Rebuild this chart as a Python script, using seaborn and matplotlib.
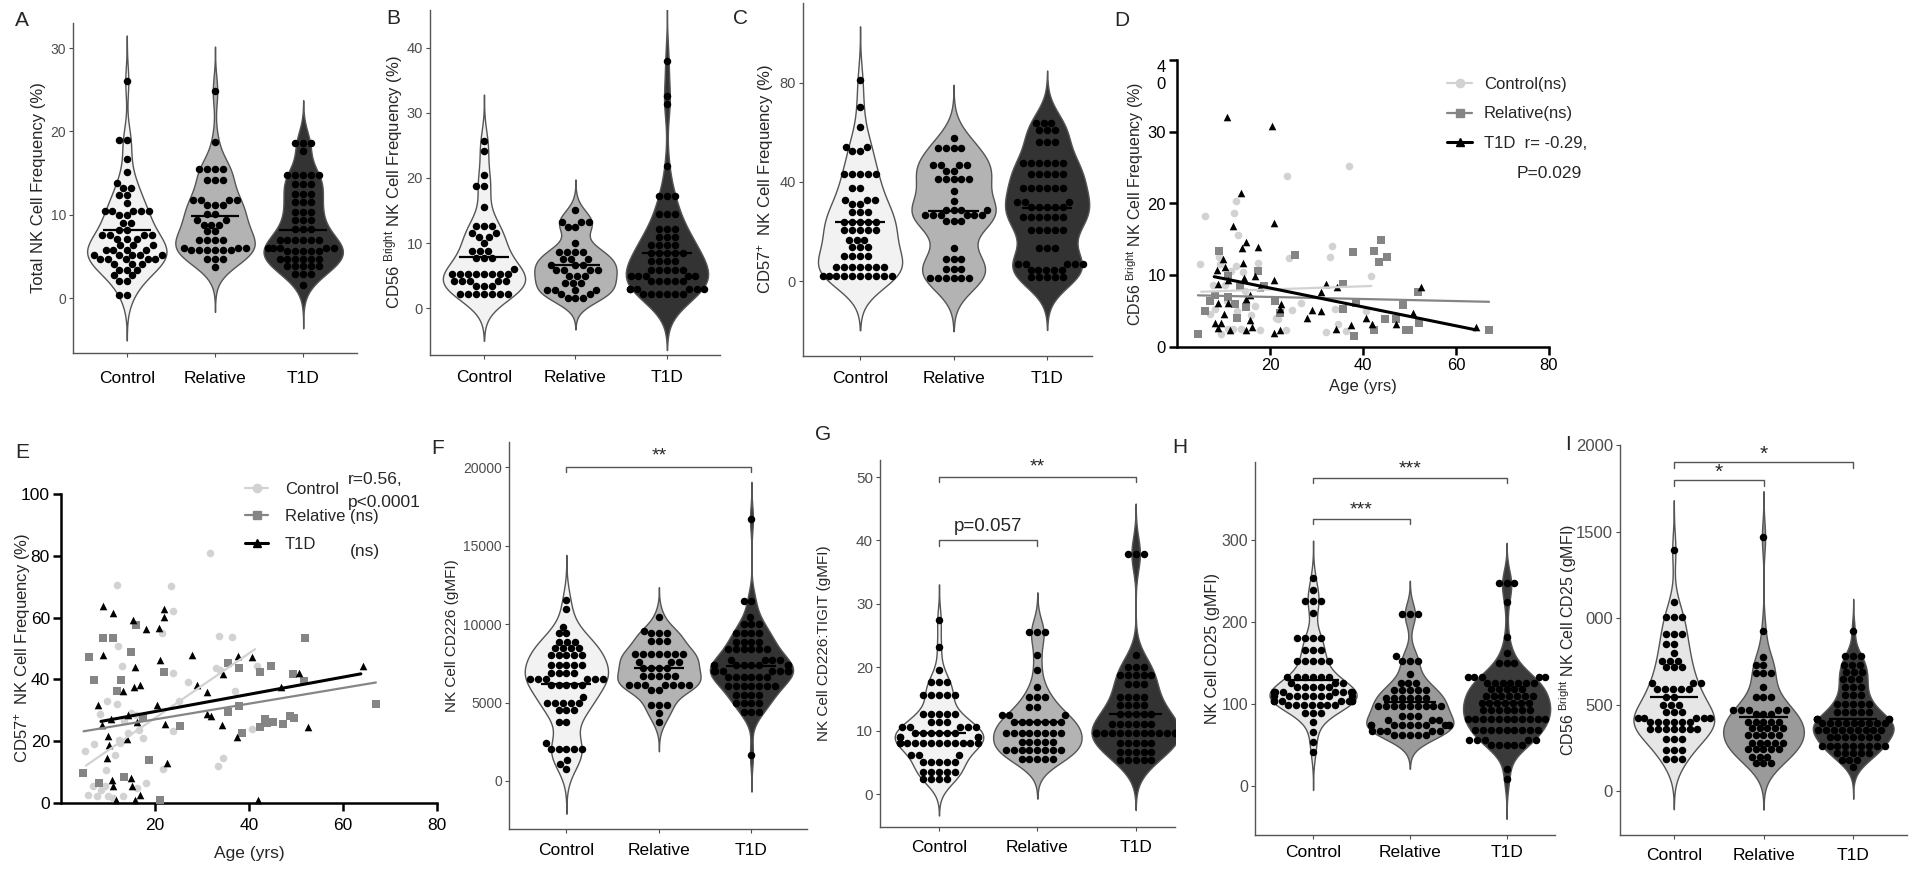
"""NK cell panels A-I: group violins (Control / Relative / T1D) and age correlations."""
import matplotlib
matplotlib.use("Agg")
import matplotlib.pyplot as plt
from matplotlib.lines import Line2D
import numpy as np
import pandas as pd
import seaborn as sns

GROUPS = ["Control", "Relative", "T1D"]

# ---- violin panels: (value, number of dots stacked in that row) ----
A_CONTROL = [(26.0, 1), (19.0, 2), (16.7, 1), (15.1, 1), (13.8, 1), (13.2, 2), (12.4, 2), (11.4, 1),
             (10.4, 5), (9.9, 2), (9.0, 2), (8.2, 2), (7.5, 4), (7.1, 3), (6.3, 3), (5.8, 4), (5.2, 5),
             (4.7, 5), (4.1, 3), (3.4, 3), (2.7, 2), (2.0, 2), (0.4, 2)]
A_RELATIVE = [(24.8, 1), (18.7, 1), (15.5, 4), (14.1, 3), (11.7, 4), (11.2, 3), (10.1, 2), (9.3, 2),
              (8.8, 3), (8.0, 2), (7.0, 4), (6.0, 3), (5.7, 6), (4.7, 3), (3.7, 1)]
A_T1D = [(18.6, 3), (17.6, 1), (14.7, 5), (13.7, 3), (12.5, 3), (11.5, 3), (10.3, 3), (9.3, 3),
         (8.3, 3), (7.0, 6), (6.0, 5), (5.6, 5), (4.7, 6), (3.8, 5), (2.9, 3), (1.5, 1)]
A_MEANS = [8.2, 9.8, 8.1]

B_CONTROL = [(25.6, 1), (24.2, 1), (20.5, 1), (18.7, 2), (15.6, 1), (12.6, 3), (11.5, 2), (10.9, 2),
             (10.0, 1), (8.7, 3), (7.7, 3), (6.0, 1), (5.3, 8), (4.1, 5), (3.4, 3), (2.2, 7)]
B_RELATIVE = [(15.0, 1), (13.3, 3), (12.5, 2), (10.0, 1), (8.6, 4), (7.6, 3), (6.7, 3), (5.8, 4),
              (4.9, 3), (3.9, 3), (2.8, 4), (2.2, 2), (1.5, 3)]
B_T1D = [(38.0, 1), (32.6, 1), (31.3, 1), (21.8, 1), (17.2, 3), (14.4, 3), (12.2, 3), (11.0, 3),
         (9.7, 4), (8.5, 5), (7.2, 4), (5.9, 5), (5.0, 5), (4.1, 5), (2.9, 6), (2.2, 6)]
B_MEANS = [7.9, 6.6, 8.5]

C_CONTROL = [(81.0, 1), (70.3, 1), (62.2, 1), (54.2, 2), (52.6, 2), (43.1, 5), (37.6, 2), (32.7, 3),
             (31.3, 2), (28.0, 3), (23.9, 5), (20.6, 5), (16.5, 3), (13.8, 3), (10.1, 4), (5.8, 7),
             (2.0, 10)]
C_RELATIVE = [(57.8, 1), (53.8, 4), (46.8, 4), (44.5, 2), (41.1, 5), (36.4, 1), (32.3, 1), (28.9, 4),
              (26.6, 6), (24.3, 3), (13.6, 1), (9.1, 3), (5.1, 3), (1.3, 6)]
C_T1D = [(63.6, 3), (60.9, 3), (55.9, 3), (47.6, 6), (43.1, 5), (37.4, 6), (31.9, 3), (30.0, 5),
         (25.9, 6), (20.6, 5), (13.4, 3), (7.1, 5), (4.7, 5), (1.7, 5)]
C_MEANS = [24.1, 28.2, 29.6]

F_CONTROL = [(11530, 1), (10940, 1), (9830, 1), (9400, 2), (8870, 3), (8450, 4), (8020, 5), (7380, 5),
             (6890, 4), (6470, 6), (6100, 5), (5360, 1), (4980, 5), (4550, 3), (3770, 2), (2430, 1),
             (2060, 5), (1320, 1), (1100, 1), (790, 1)]
F_RELATIVE = [(10470, 1), (9550, 1), (9400, 3), (8900, 3), (8100, 7), (7600, 3), (7200, 4), (6700, 5),
              (6100, 7), (5800, 2), (4850, 3), (4300, 1), (3770, 1)]
F_T1D = [(16700, 1), (11500, 2), (10470, 1), (10000, 3), (9400, 4), (8870, 4), (8380, 6), (7740, 4),
         (7380, 8), (7020, 8), (6640, 6), (6060, 7), (5470, 4), (4940, 4), (4380, 3), (1680, 1)]
F_MEANS = [6210, 7230, 7300]

G_CONTROL = [(27.4, 1), (23.2, 1), (19.5, 1), (17.7, 3), (15.7, 5), (12.7, 5), (11.4, 3), (10.6, 5),
             (9.7, 6), (9.0, 4), (8.0, 12), (6.1, 3), (5.1, 5), (3.5, 5), (2.3, 4)]
G_RELATIVE = [(25.6, 3), (21.9, 1), (19.5, 1), (16.9, 1), (15.3, 3), (13.7, 2), (12.4, 3), (11.4, 7),
              (9.7, 8), (8.2, 5), (6.9, 8), (5.5, 5)]
G_T1D = [(37.9, 3), (21.9, 1), (20.1, 3), (18.8, 5), (17.4, 3), (15.3, 4), (14.0, 4), (12.7, 5),
         (11.1, 6), (9.6, 14), (8.0, 5), (6.7, 5), (5.4, 5)]
G_MEANS = [9.7, 11.4, 12.6]

H_CONTROL = [(253, 1), (239, 1), (226, 3), (211, 1), (180, 4), (166, 3), (152, 5), (133, 6), (125, 3),
             (120, 5), (114, 8), (109, 8), (104, 7), (98, 7), (89, 3), (78, 1), (66, 1), (54, 1), (41, 1)]
H_RELATIVE = [(209, 3), (158, 1), (152, 3), (137, 1), (126, 3), (117, 5), (107, 6), (97, 9), (85, 3),
              (80, 3), (74, 10), (67, 5), (62, 5)]
H_T1D = [(248, 3), (224, 1), (181, 1), (162, 1), (150, 3), (133, 5), (126, 7), (118, 5), (109, 7),
         (101, 7), (92, 7), (82, 11), (68, 9), (56, 5), (50, 5), (20, 1), (8, 1)]
H_MEANS = [129, 102, 101]

I_CONTROL = [(1393, 1), (1094, 1), (1004, 3), (907, 3), (850, 2), (796, 1), (753, 3), (715, 3),
             (622, 3), (588, 5), (545, 2), (500, 3), (459, 3), (424, 5), (401, 6), (356, 7), (299, 3),
             (237, 3), (183, 3)]
I_RELATIVE = [(1466, 1), (925, 1), (777, 1), (728, 2), (684, 3), (603, 1), (545, 3), (468, 5), (445, 3),
              (401, 5), (362, 5), (324, 5), (279, 5), (241, 5), (198, 3), (160, 3)]
I_T1D = [(925, 1), (780, 3), (728, 3), (686, 3), (645, 3), (603, 3), (555, 3), (503, 5), (459, 5),
         (416, 5), (391, 9), (353, 9), (314, 7), (262, 9), (218, 5), (179, 3), (141, 1)]
I_MEANS = [545, 430, 416]

# ---- scatter panels: (age, value) ----
D_CONTROL = [(4.9, 11.5), (6.0, 18.3), (7.0, 4.6), (7.7, 8.7), (8.1, 5.3), (9.0, 12.6), (9.3, 11.5),
             (9.5, 1.8), (10.3, 8.7), (10.8, 6.4), (11.0, 2.5), (11.7, 10.6), (12.0, 2.5), (12.3, 18.7),
             (12.6, 20.3), (12.6, 11.3), (12.8, 5.0), (13.1, 15.6), (13.8, 2.5), (14.2, 10.5),
             (14.6, 7.8), (14.9, 6.0), (16.0, 4.4), (16.7, 5.7), (17.4, 11.7), (17.9, 2.3), (21.3, 4.1),
             (21.7, 3.9), (24.0, 12.4), (23.7, 23.9), (23.5, 2.3), (24.8, 5.1), (26.7, 6.2), (32.0, 2.1),
             (32.8, 12.5), (33.3, 14.1), (33.9, 5.3), (34.6, 3.2), (36.4, 2.2), (36.9, 25.2),
             (40.7, 5.0), (41.8, 9.9)]
D_RELATIVE = [(4.5, 1.8), (6.0, 5.0), (7.0, 6.4), (8.1, 7.3), (9.0, 13.4), (11.0, 9.9), (11.0, 6.9),
              (12.4, 6.0), (12.9, 4.1), (13.5, 8.3), (14.9, 5.6), (17.4, 10.6), (18.7, 8.5), (21.0, 6.4),
              (22.1, 4.8), (25.3, 12.8), (35.6, 8.8), (35.6, 5.3), (37.8, 13.2), (38.1, 1.5), (38.6, 6.2),
              (42.4, 2.4), (42.4, 13.4), (43.4, 11.9), (43.8, 14.9), (44.8, 3.9), (45.2, 12.6),
              (47.2, 3.9), (48.7, 5.8), (49.3, 2.4), (49.9, 2.4), (51.8, 7.7), (52.0, 3.3), (67.1, 2.4)]
D_T1D = [(10.8, 32.1), (20.4, 30.8), (13.8, 21.5), (20.8, 17.3), (12.0, 16.9), (14.9, 14.6),
         (17.4, 14.0), (13.9, 13.8), (9.9, 12.2), (14.3, 11.7), (10.4, 11.2), (8.7, 10.8), (16.8, 9.9),
         (14.4, 9.6), (20.8, 9.4), (11.0, 9.4), (8.8, 8.8), (32.0, 8.8), (34.5, 8.4), (52.5, 8.3),
         (17.8, 8.3), (31.0, 7.7), (15.6, 7.2), (14.9, 6.7), (8.8, 6.2), (11.0, 6.1), (22.4, 6.0),
         (29.0, 5.1), (31.0, 5.0), (22.1, 5.3), (10.2, 4.6), (50.8, 4.8), (27.9, 4.1), (40.7, 4.1),
         (15.6, 3.8), (8.1, 3.3), (9.5, 3.4), (16.1, 2.8), (47.0, 3.2), (41.9, 3.2), (37.5, 3.0),
         (34.2, 2.5), (64.2, 2.8), (8.8, 2.7), (14.8, 2.3), (22.1, 2.3), (20.8, 2.0), (11.3, 2.3)]
# fitted lines: ([age0, age1], [y0, y1])
D_FITS = [([5.2, 41.8], [7.7, 8.5]), ([4.5, 67.1], [7.2, 6.3]), ([8.0, 64.2], [9.8, 2.4])]

E_CONTROL = [(5.0, 16.7), (5.8, 2.7), (6.9, 5.4), (7.0, 19.2), (7.6, 2.2), (8.3, 28.9), (8.5, 4.3),
             (9.4, 5.6), (9.6, 10.6), (9.7, 32.9), (10.1, 2.4), (11.1, 1.6), (11.5, 15.6), (11.9, 70.6),
             (12.0, 32.1), (12.2, 50.9), (12.4, 20.5), (12.6, 19.4), (12.9, 44.2), (13.1, 2.2),
             (13.4, 26.4), (14.3, 22.6), (14.9, 29.1), (16.0, 28.6), (16.1, 4.8), (16.7, 23.7),
             (17.5, 21.0), (18.0, 6.5), (21.4, 55.0), (21.8, 11.0), (23.5, 70.3), (23.9, 62.0),
             (23.9, 42.0), (23.9, 23.2), (25.0, 32.9), (27.0, 39.0), (33.0, 43.6), (33.5, 11.9),
             (33.7, 53.9), (33.8, 42.9), (34.5, 14.5), (36.3, 53.7), (37.0, 36.4), (31.8, 80.8),
             (40.6, 23.9), (41.8, 44.4)]
E_RELATIVE = [(4.6, 9.7), (6.0, 47.1), (7.0, 39.7), (8.1, 6.5), (9.0, 53.3), (11.0, 53.3), (12.0, 36.4),
              (12.7, 39.9), (13.5, 8.3), (14.9, 48.8), (16.0, 57.7), (17.4, 27.7), (18.8, 13.8),
              (21.1, 1.1), (22.0, 42.3), (25.3, 24.8), (35.5, 45.3), (35.6, 29.6), (37.9, 43.6),
              (37.9, 31.5), (38.6, 22.6), (42.3, 42.3), (42.3, 24.5), (43.4, 27.3), (43.8, 25.9),
              (44.6, 44.4), (45.2, 26.2), (47.3, 25.6), (48.7, 28.3), (49.3, 41.8), (49.6, 27.5),
              (51.7, 39.5), (52.0, 53.3), (67.0, 32.1)]
E_T1D = [(9.0, 63.6), (9.0, 48.0), (11.0, 61.6), (7.8, 31.8), (8.8, 25.3), (9.7, 14.5), (9.9, 21.8),
         (10.2, 18.9), (10.6, 27.2), (10.8, 7.5), (11.1, 5.4), (11.8, 1.1), (13.1, 36.1), (14.0, 20.7),
         (14.3, 28.6), (14.9, 8.1), (15.0, 5.4), (15.4, 59.1), (15.6, 37.5), (15.7, 44.0), (15.7, 1.1),
         (16.2, 26.1), (16.9, 38.3), (16.9, 2.7), (18.0, 56.3), (20.5, 31.8), (20.9, 56.6),
         (21.1, 46.3), (21.9, 62.8), (21.9, 60.3), (22.2, 25.6), (22.6, 13.1), (27.9, 48.0),
         (29.0, 38.3), (31.1, 35.9), (31.1, 28.8), (31.9, 28.3), (34.2, 25.3), (34.5, 41.8),
         (37.5, 21.3), (37.6, 47.7), (40.7, 47.2), (42.0, 1.1), (46.9, 37.7), (50.6, 42.0),
         (52.6, 24.6), (64.3, 44.2)]
E_FITS = [([5.3, 41.3], [12.1, 49.8]), ([4.8, 67.0], [23.2, 39.0]), ([8.5, 63.8], [26.4, 41.8])]

PAL_LIGHT = ["#f2f2f2", "#b3b3b3", "#333333"]
PAL_MID = ["#e6e6e6", "#9a9a9a", "#3a3a3a"]
SCATTER_STYLE = [("#d2d2d2", "o", 1.6), ("#858585", "s", 1.6), ("black", "^", 2.2)]

W, H = 1920, 871
sns.set_style("ticks")
plt.rcParams["font.family"] = ["Liberation Sans", "DejaVu Sans"]
plt.rcParams["mathtext.fontset"] = "custom"
plt.rcParams["mathtext.rm"] = "Liberation Sans"
plt.rcParams["mathtext.it"] = "Liberation Sans:italic"

fig = plt.figure(figsize=(19.2, 8.71), dpi=100)


def add_ax(x0, y0, x1, y1):
    return fig.add_axes([x0 / W, 1 - y1 / H, (x1 - x0) / W, (y1 - y0) / H])


def ftext(x, y, s, **kw):
    fig.text(x / W, 1 - y / H, s, **kw)


def expand(rows):
    return np.repeat([v for v, n in rows], [n for v, n in rows])


def violin_panel(ax, data, means, palette, ylim, xlim, yticks, yticklabels, ylabel,
                 label_x, ylabel_fs=12, ytick_fs=10.5, xpad=8):
    df = pd.concat([pd.DataFrame({"group": g, "value": expand(d)}) for g, d in zip(GROUPS, data)],
                   ignore_index=True)
    sns.violinplot(data=df, x="group", y="value", hue="group", order=GROUPS, hue_order=GROUPS,
                   palette=palette, saturation=1, inner=None, cut=3, width=0.9, bw_adjust=0.85,
                   density_norm="area", linewidth=1, linecolor="#555555", legend=False, ax=ax)
    sns.swarmplot(data=df, x="group", y="value", order=GROUPS, color="black", size=5.4,
                  warn_thresh=1, ax=ax)
    ax.hlines(means, np.arange(3) - 0.27, np.arange(3) + 0.27, color="black", lw=1.6, zorder=6)
    ax.set_xlim(*xlim)
    ax.set_ylim(*ylim)
    ax.set_yticks(yticks)
    ax.set_yticklabels(yticklabels)
    ax.set_xlabel("")
    ax.set_ylabel(ylabel, fontsize=ylabel_fs)
    ax.yaxis.set_label_coords(label_x, 0.5)
    ax.tick_params(axis="y", labelsize=ytick_fs, labelcolor="#4d4d4d", color="#4d4d4d",
                   length=3, width=0.8, pad=2)
    ax.tick_params(axis="x", labelsize=12.5, labelcolor="black", color="#4d4d4d",
                   length=3, width=0.8, pad=xpad)
    for s in ("top", "right"):
        ax.spines[s].set_visible(False)
    for s in ("left", "bottom"):
        ax.spines[s].set_color("#555555")
        ax.spines[s].set_linewidth(1)


def bracket(ax, x1, x2, y, drop, text, gap, fs=14):
    ax.plot([x1, x1, x2, x2], [y - drop, y, y, y - drop], color="#555555", lw=1, clip_on=False)
    ax.text((x1 + x2) / 2, y + gap, text, ha="center", va="bottom", fontsize=fs)


def scatter_panel(ax, groups, fits):
    for pts, fit, (c, m, lw) in zip(groups, fits, SCATTER_STYLE):
        df = pd.DataFrame(pts, columns=["age", "val"])
        sns.scatterplot(data=df, x="age", y="val", color=c, marker=m, s=30, linewidth=0,
                        ax=ax, zorder=3, clip_on=False)
        ax.plot(fit[0], fit[1], color=c, lw=lw, zorder=4)
    for s in ("top", "right"):
        ax.spines[s].set_visible(False)
    for s in ("left", "bottom"):
        ax.spines[s].set_color("black")
        ax.spines[s].set_linewidth(1.8)


def legend_handles():
    return [Line2D([], [], color=c, marker=m, markersize=6, lw=lw) for c, m, lw in SCATTER_STYLE]


# ---------------- A ----------------
ax = add_ax(73, 23, 357, 353)
violin_panel(ax, [A_CONTROL, A_RELATIVE, A_T1D], A_MEANS, PAL_LIGHT, (-6.6, 33), (-0.61, 2.61),
             [0, 10, 20, 30], ["0", "10", "20", "30"], "Total NK Cell Frequency (%)", -0.095,
             ytick_fs=10, xpad=10)

# ---------------- B ----------------
ax = add_ax(430, 10, 720, 355)
violin_panel(ax, [B_CONTROL, B_RELATIVE, B_T1D], B_MEANS, PAL_LIGHT, (-7.2, 45.8), (-0.59, 2.58),
             [0, 10, 20, 30, 40], ["0", "10", "20", "30", "40"],
             r"CD56 $^{\mathrm{Bright}}$ NK Cell Frequency (%)", -0.085, xpad=7.5)

# ---------------- C ----------------
ax = add_ax(803, 3, 1092, 356)
violin_panel(ax, [C_CONTROL, C_RELATIVE, C_T1D], C_MEANS, PAL_LIGHT, (-30, 112), (-0.61, 2.48),
             [0, 40, 80], ["0", "40", "80"], r"CD57$^{+}$  NK Cell Frequency (%)", -0.092, xpad=8)

# ---------------- D ----------------
ax = add_ax(1177, 60, 1549, 347)
scatter_panel(ax, [D_CONTROL, D_RELATIVE, D_T1D], D_FITS)
ax.set_xlim(0, 80)
ax.set_ylim(0, 40)
ax.set_xticks([20, 40, 60, 80])
ax.set_yticks([0, 10, 20, 30, 40])
ax.set_yticklabels(["0", "10", "20", "30", "4\n0"])
ax.get_yticklabels()[-1].set_verticalalignment("top")
ax.tick_params(direction="out", length=6, width=1.8, colors="black", labelsize=12)
ax.tick_params(axis="x", pad=2)
ax.tick_params(axis="y", pad=2)
ax.set_xlabel("Age (yrs)", fontsize=12, labelpad=4)
ax.set_ylabel(r"CD56 $^{\mathrm{Bright}}$ NK Cell Frequency (%)", fontsize=11.5)
ax.yaxis.set_label_coords(-0.083, 0.5)
ax.legend(legend_handles(), ["Control(ns)", "Relative(ns)", "T1D  r= -0.29,"], loc="upper left",
          bbox_to_anchor=(0.726, 0.94), frameon=False, fontsize=12, handlelength=1.5,
          handletextpad=0.7, labelspacing=0.85, borderaxespad=0, borderpad=0)
ftext(1517, 173, "P=0.029", fontsize=12.5, va="center", ha="left")

# ---------------- E ----------------
ax = add_ax(61, 494, 437, 803)
scatter_panel(ax, [E_CONTROL, E_RELATIVE, E_T1D], E_FITS)
ax.set_xlim(0, 80)
ax.set_ylim(0, 100)
ax.set_xticks([20, 40, 60, 80])
ax.set_yticks([0, 20, 40, 60, 80, 100])
ax.tick_params(direction="out", length=6, width=1.8, colors="black", labelsize=12.5)
ax.tick_params(axis="x", pad=5)
ax.tick_params(axis="y", pad=2)
ax.set_xlabel("Age (yrs)", fontsize=12.5, labelpad=9)
ax.set_ylabel(r"CD57$^{+}$  NK Cell Frequency (%)", fontsize=12)
ax.yaxis.set_label_coords(-0.074, 0.5)
ax.legend(legend_handles(), ["Control", "Relative (ns)", "T1D"], loc="upper left",
          bbox_to_anchor=(0.489, 1.04), frameon=False, fontsize=12, handlelength=1.4,
          handletextpad=1.0, labelspacing=0.75, borderaxespad=0, borderpad=0)
ftext(348, 480, "r=0.56,", fontsize=12.5, va="center", ha="left")
ftext(348, 502, "p<0.0001", fontsize=12.5, va="center", ha="left")
ftext(350, 551, "(ns)", fontsize=12.5, va="center", ha="left")

# ---------------- F ----------------
ax = add_ax(509, 442, 807, 829)
violin_panel(ax, [F_CONTROL, F_RELATIVE, F_T1D], F_MEANS, PAL_LIGHT, (-3060, 21600), (-0.62, 2.6),
             [0, 5000, 10000, 15000, 20000], ["0", "5000", "10000", "15000", "20000"],
             "NK Cell CD226 (gMFI)", -0.168, ylabel_fs=11, ytick_fs=10, xpad=7)
bracket(ax, 0, 2, 20000, 280, "**", 150)

# ---------------- G ----------------
ax = add_ax(880, 460, 1175, 827)
violin_panel(ax, [G_CONTROL, G_RELATIVE, G_T1D], G_MEANS, PAL_LIGHT, (-5.2, 52.7), (-0.6, 2.4),
             [0, 10, 20, 30, 40, 50], ["0", "10", "20", "30", "40", "50"],
             "NK Cell CD226:TIGIT (gMFI)", -0.167, ylabel_fs=11, ytick_fs=11, xpad=6.5)
bracket(ax, 0, 2, 50, 0.8, "**", 0.2)
bracket(ax, 0, 1, 40, 0.8, "p=0.057", 0.8, fs=13.5)

# ---------------- H ----------------
ax = add_ax(1255, 462, 1555, 835)
violin_panel(ax, [H_CONTROL, H_RELATIVE, H_T1D], H_MEANS, PAL_MID, (-60, 395), (-0.6, 2.5),
             [0, 100, 200, 300], ["0", "100", "200", "300"], "NK Cell CD25 (gMFI)", -0.117,
             ylabel_fs=11.5, ytick_fs=11.5, xpad=4)
bracket(ax, 0, 2, 375.6, 6, "***", 1)
bracket(ax, 0, 1, 325.6, 6, "***", 1)

# ---------------- I ----------------
ax = add_ax(1620, 445, 1907, 835)
violin_panel(ax, [I_CONTROL, I_RELATIVE, I_T1D], I_MEANS, PAL_MID, (-254, 2000), (-0.6, 2.6),
             [0, 500, 1000, 1500, 2000], ["0", "500", "000", "1500", "2000"],
             r"CD56 $^{\mathrm{Bright}}$ NK Cell CD25 (gMFI)", -0.143, ylabel_fs=11.5,
             ytick_fs=12, xpad=6)
bracket(ax, 0, 2, 1900, 33, "*", -8, fs=15)
bracket(ax, 0, 1, 1798, 33, "*", -8, fs=15)

# panel letters
for letter, x, y in [("A", 22, 20), ("B", 393, 18), ("C", 740, 18), ("D", 1122, 20), ("E", 22, 452),
                     ("F", 438, 448), ("G", 823, 435), ("H", 1180, 447), ("I", 1568, 445)]:
    ftext(x, y, letter, fontsize=15, ha="center", va="center")

fig.savefig("out.png", dpi=100)
